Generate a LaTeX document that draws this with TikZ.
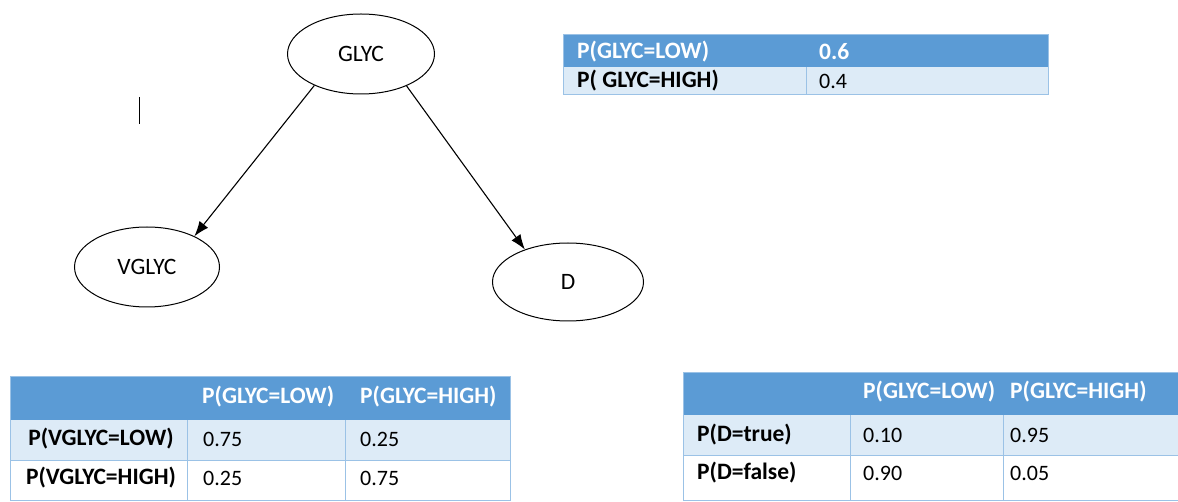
\documentclass[tikz,border=0pt]{standalone}
\usepackage{fontspec}
\setmainfont{Carlito}
\usetikzlibrary{arrows.meta,shapes.geometric}
\definecolor{hdrblue}{HTML}{5B9BD5}
\definecolor{bandblue}{HTML}{DDEBF7}
\definecolor{gridblue}{HTML}{9BC2E6}
\tikzset{
  var/.style={draw, ellipse, line width=1pt, inner sep=0pt, font=\fontsize{23.5}{25}\selectfont},
  link/.style={line width=1.1pt, -{Latex[length=15pt,width=11pt]}},
  hdrcell/.style={fill=hdrblue, draw=none},
  bandcell/.style={fill=bandblue, draw=none},
  gridln/.style={draw=gridblue, line width=1pt},
  txt/.style={anchor=west, inner sep=0pt, font=\fontsize{22}{24}\selectfont},
  htxt/.style={txt, text=white, font=\fontsize{23.5}{25}\selectfont\bfseries},
  btxt/.style={txt, font=\fontsize{23.5}{25}\selectfont\bfseries},
}
\begin{document}
\begin{tikzpicture}[x=1pt, y=-1pt]
\useasboundingbox (0,0) rectangle (1178,502);

% Network
\node[var, minimum width=147pt, minimum height=80pt] (glyc) at (361,54) {GLYC};
\node[var, minimum width=145pt, minimum height=80pt] (vglyc) at (147,267) {VGLYC};
\node[var, minimum width=151pt, minimum height=78pt] (d) at (568,282) {D};
\draw[link] (glyc.214) -- (vglyc.33);
\draw[link] (glyc.325) -- (d.143);

% stray text cursor
\coordinate (cur1) at (139,97);
\coordinate (cur2) at (139,124);
\draw[line width=1pt] (cur1) -- (cur2);

% Prior table for GLYC
\fill[hdrcell] (563,35) rectangle (1048,67);
\fill[bandcell] (563,67) rectangle (1048,95);
\draw[gridln] (563,35) rectangle (1048,95);
\draw[gridln] (806,67) -- (806,95);
\node[htxt] (t1a) at (577,52) {P(GLYC=LOW)};
\node[htxt] (t1b) at (819,52) {0.6};
\node[btxt] (t1c) at (577,81) {P( GLYC=HIGH)};
\node[txt] (t1d) at (819,81) {0.4};

% CPT for VGLYC
\fill[hdrcell] (10,377) rectangle (510,420);
\fill[bandcell] (10,420) rectangle (510,460);
\draw[gridln] (10,377) rectangle (510,500);
\draw[gridln] (10,460) -- (510,460);
\draw[gridln] (187,420) -- (187,500);
\draw[gridln] (345,420) -- (345,500);
\node[htxt] (t2h1) at (202,397) {P(GLYC=LOW)};
\node[htxt] (t2h2) at (360,397) {P(GLYC=HIGH)};
\node[btxt, anchor=center] (t2r1) at (101,439) {P(VGLYC=LOW)};
\node[txt] (t2a) at (203,439) {0.75};
\node[txt] (t2b) at (360,439) {0.25};
\node[btxt, anchor=center] (t2r2) at (101,478) {P(VGLYC=HIGH)};
\node[txt] (t2c) at (203,478) {0.25};
\node[txt] (t2d) at (360,478) {0.75};

% CPT for D
\fill[hdrcell] (683,373) rectangle (1178,415);
\fill[bandcell] (683,415) rectangle (1178,455);
\draw[gridln] (683,373) rectangle (1178,500);
\draw[gridln] (683,455) -- (1178,455);
\draw[gridln] (850,415) -- (850,500);
\draw[gridln] (1003,415) -- (1003,500);
\node[htxt] (t3h1) at (863,392) {P(GLYC=LOW)};
\node[htxt] (t3h2) at (1010,392) {P(GLYC=HIGH)};
\node[btxt] (t3r1) at (697,435) {P(D=true)};
\node[txt] (t3a) at (863,435) {0.10};
\node[txt] (t3b) at (1010,435) {0.95};
\node[btxt] (t3r2) at (697,473) {P(D=false)};
\node[txt] (t3c) at (863,473) {0.90};
\node[txt] (t3d) at (1010,473) {0.05};
\end{tikzpicture}
\end{document}
